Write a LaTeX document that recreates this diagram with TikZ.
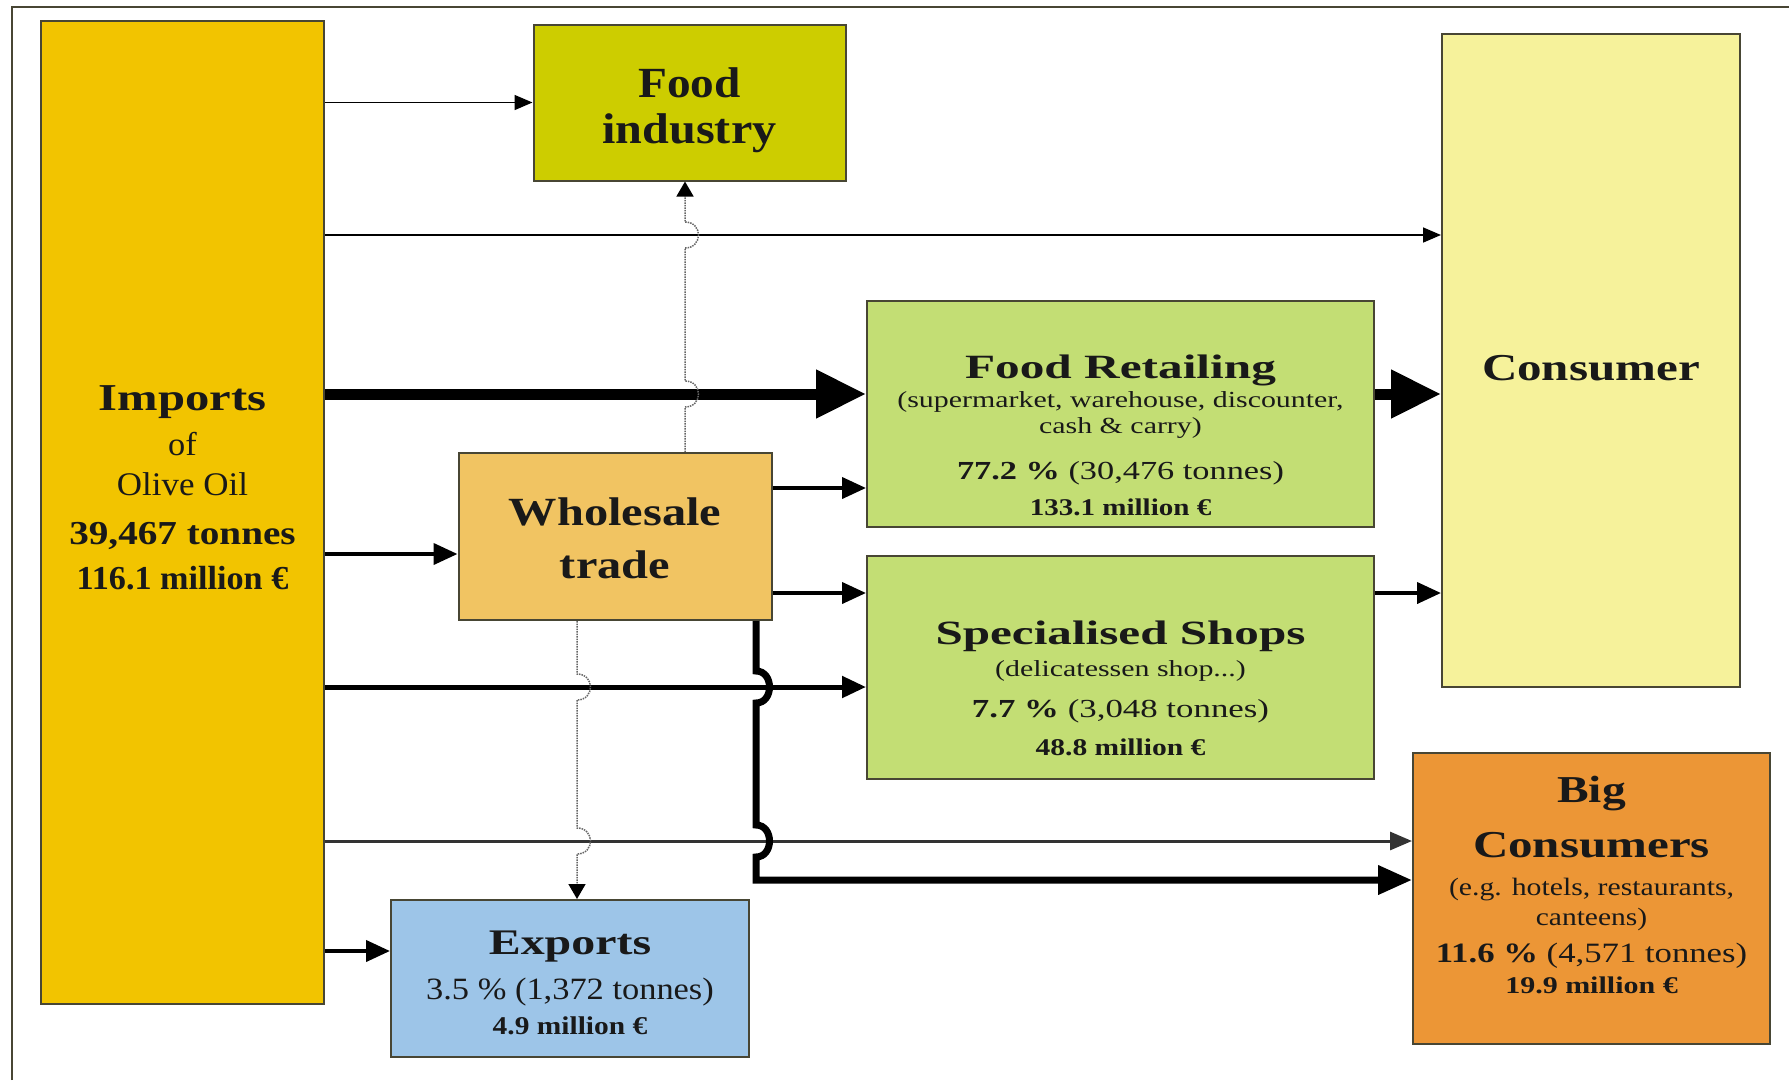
\documentclass[tikz,border=0pt]{standalone}
\usepackage{amsmath,graphicx}
\usepackage{fontspec}
\setmainfont{Liberation Serif}
\usetikzlibrary{arrows.meta, positioning, calc}

\definecolor{impcol}{RGB}{242,196,0}
\definecolor{indcol}{RGB}{205,205,0}
\definecolor{concol}{RGB}{246,242,155}
\definecolor{retcol}{RGB}{195,222,116}
\definecolor{whocol}{RGB}{241,196,98}
\definecolor{bigcol}{RGB}{236,150,54}
\definecolor{expcol}{RGB}{157,197,232}
\definecolor{edgecol}{RGB}{72,70,52}

% one line of box text: size, horizontal stretch, text
\newcommand{\boxline}[3]{\scalebox{#2}[1]{\fontsize{#1}{0}\selectfont #3}}

\begin{document}
\begin{tikzpicture}[x=1pt,y=-1pt,
    stage/.style={draw=edgecol, line width=2pt, inner sep=0pt},
    btext/.style={align=center, inner sep=0pt, anchor=base, text=black!90,
      font={\baselineskip=0pt\lineskip=0pt\lineskiplimit=-1000pt}},
    flowthin/.style={line width=1.6pt, -{Triangle[length=18pt,width=15pt]}},
    flowmid/.style={line width=4pt, -{Triangle[length=24pt,width=21pt]}},
    flowgrey/.style={draw=black!70, line width=3pt, -{Triangle[length=22pt,width=18pt]}, color=black!80},
    flowbold/.style={line width=7pt, -{Triangle[length=34pt,width=28pt]}},
    flowhuge/.style={line width=11pt, -{Triangle[length=50pt,width=46pt]}},
    flowdot/.style={draw=black!60, line width=1.5pt, densely dotted, -{Triangle[length=15pt,width=17pt,color=black]}}]
        \useasboundingbox (0,0) rectangle (1789,1080);
        \draw[edgecol, line width=2pt] (12,1080) -- (12,7) -- (1789,7);

        % boxes
        \node[stage, fill=impcol, minimum width=283, minimum height=983] (imports) at (182.5,512.5) {};
        \node[stage, fill=indcol, minimum width=312, minimum height=156] (foodind) at (689.5,102.5) {};
        \node[stage, fill=concol, minimum width=298, minimum height=653] (consumer) at (1591,360.5) {};
        \node[stage, fill=retcol, minimum width=507, minimum height=226] (foodret) at (1120.5,414) {};
        \node[stage, fill=whocol, minimum width=313, minimum height=167] (wholesale) at (615,536.5) {};
        \node[stage, fill=retcol, minimum width=507, minimum height=223] (specshop) at (1120.5,667.5) {};
        \node[stage, fill=bigcol, minimum width=357, minimum height=291] (bigcons) at (1591.5,898.5) {};
        \node[stage, fill=expcol, minimum width=358, minimum height=157] (exports) at (570,978.5) {};

        % texts, placed at the baseline of their last line
        \node[btext] (imports_txt) at (imports.center |- 0,589) {\boxline{38}{1.28}{\bfseries Imports}\\[45pt]
          \boxline{33}{1.04}{of}\\[40pt] \boxline{33}{1.06}{Olive Oil}\\[49pt]
          \boxline{33.5}{1.17}{\bfseries 39,467 tonnes}\\[45pt] \boxline{33.5}{1.02}{\bfseries 116.1 million €}};
        \node[btext] (foodind_txt) at (foodind.center |- 0,143) {\boxline{43}{1.1}{\bfseries Food}\\[46pt]
          \boxline{43}{1.12}{\bfseries industry}};
        \node[btext] (consumer_txt) at (consumer.center |- 0,380) {\boxline{38}{1.29}{\bfseries Consumer}};
        \node[btext] (foodret_txt) at (foodret.center |- 0,515) {\boxline{34}{1.45}{\bfseries Food Retailing}\\[29pt]
          \boxline{23}{1.3}{(supermarket, warehouse, discounter,}\\[26pt] \boxline{23}{1.3}{cash \& carry)}\\[46pt]
          \boxline{26}{1.32}{{\bfseries 77.2 \%} (30,476 tonnes)}\\[36pt] \boxline{24}{1.21}{\bfseries 133.1 million €}};
        \node[btext] (wholesale_txt) at (wholesale.center |- 0,578) {\boxline{40}{1.21}{\bfseries Wholesale}\\[53pt]
          \boxline{40}{1.21}{\bfseries trade}};
        \node[btext] (specshop_txt) at (specshop.center |- 0,755) {\boxline{34}{1.445}{\bfseries Specialised Shops}\\[32pt]
          \boxline{23}{1.3}{(delicatessen shop...)}\\[41pt]
          \boxline{26}{1.34}{{\bfseries 7.7 \%} (3,048 tonnes)}\\[38pt] \boxline{24}{1.23}{\bfseries 48.8 million €}};
        \node[btext] (bigcons_txt) at (bigcons.center |- 0,993) {\boxline{38}{1.25}{\bfseries Big}\\[55pt]
          \boxline{38}{1.29}{\bfseries Consumers}\\[38pt] \boxline{25}{1.19}{(e.g. hotels, restaurants,}\\[30pt]
          \boxline{25}{1.18}{canteens)}\\[37pt] \boxline{28}{1.24}{{\bfseries 11.6 \%} (4,571 tonnes)}\\[31pt]
          \boxline{24}{1.25}{\bfseries 19.9 million €}};
        \node[btext] (exports_txt) at (exports.center |- 0,1034) {\boxline{36}{1.33}{\bfseries Exports}\\[45pt]
          \boxline{31}{1.11}{3.5 \% (1,372 tonnes)}\\[35pt] \boxline{25.6}{1.15}{\bfseries 4.9 million €}};

        % flows out of imports
        \draw[flowthin] (imports.east |- foodind.west) -- (foodind.west);
        \draw[flowthin] (imports.east |- 0,235) -- (consumer.west |- 0,235);
        \draw[flowhuge] (imports.east |- 0,394) -- (foodret.west |- 0,394);
        \draw[flowmid] (imports.east |- 0,554) -- (wholesale.west |- 0,554);
        \draw[flowmid, line width=5pt] (imports.east |- 0,687) -- (specshop.west |- 0,687);
        \draw[flowgrey] (imports.east |- 0,841) -- (bigcons.west |- 0,841);
        \draw[flowmid] (imports.east |- 0,951) -- (exports.west |- 0,951);

        % flows out of wholesale and retail
        \draw[flowhuge] (foodret.east |- 0,394) -- (consumer.west |- 0,394);
        \draw[flowmid] (wholesale.east |- 0,488) -- (foodret.west |- 0,488);
        \draw[flowmid] (wholesale.east |- 0,593) -- (specshop.west |- 0,593);
        \draw[flowmid] (specshop.east |- 0,593) -- (consumer.west |- 0,593);
        \draw[flowbold] (wholesale.south -| 756,0) -- (756,671) .. controls (774,671) and (774,703) .. (756,703)
          -- (756,825) .. controls (774,825) and (774,857) .. (756,857) -- (756,880) -- (bigcons.west |- 0,880);

        % dotted flows with hops
        \draw[flowdot] (wholesale.north -| 685,0) -- (685,407) .. controls (703,407) and (703,381) .. (685,381)
          -- (685,248) .. controls (703,248) and (703,222) .. (685,222) -- (foodind.south -| 685,0);
        \draw[flowdot] (wholesale.south -| 577,0) -- (577,674) .. controls (595,674) and (595,700) .. (577,700)
          -- (577,828) .. controls (595,828) and (595,854) .. (577,854) -- (exports.north -| 577,0);
\end{tikzpicture}
\end{document}
